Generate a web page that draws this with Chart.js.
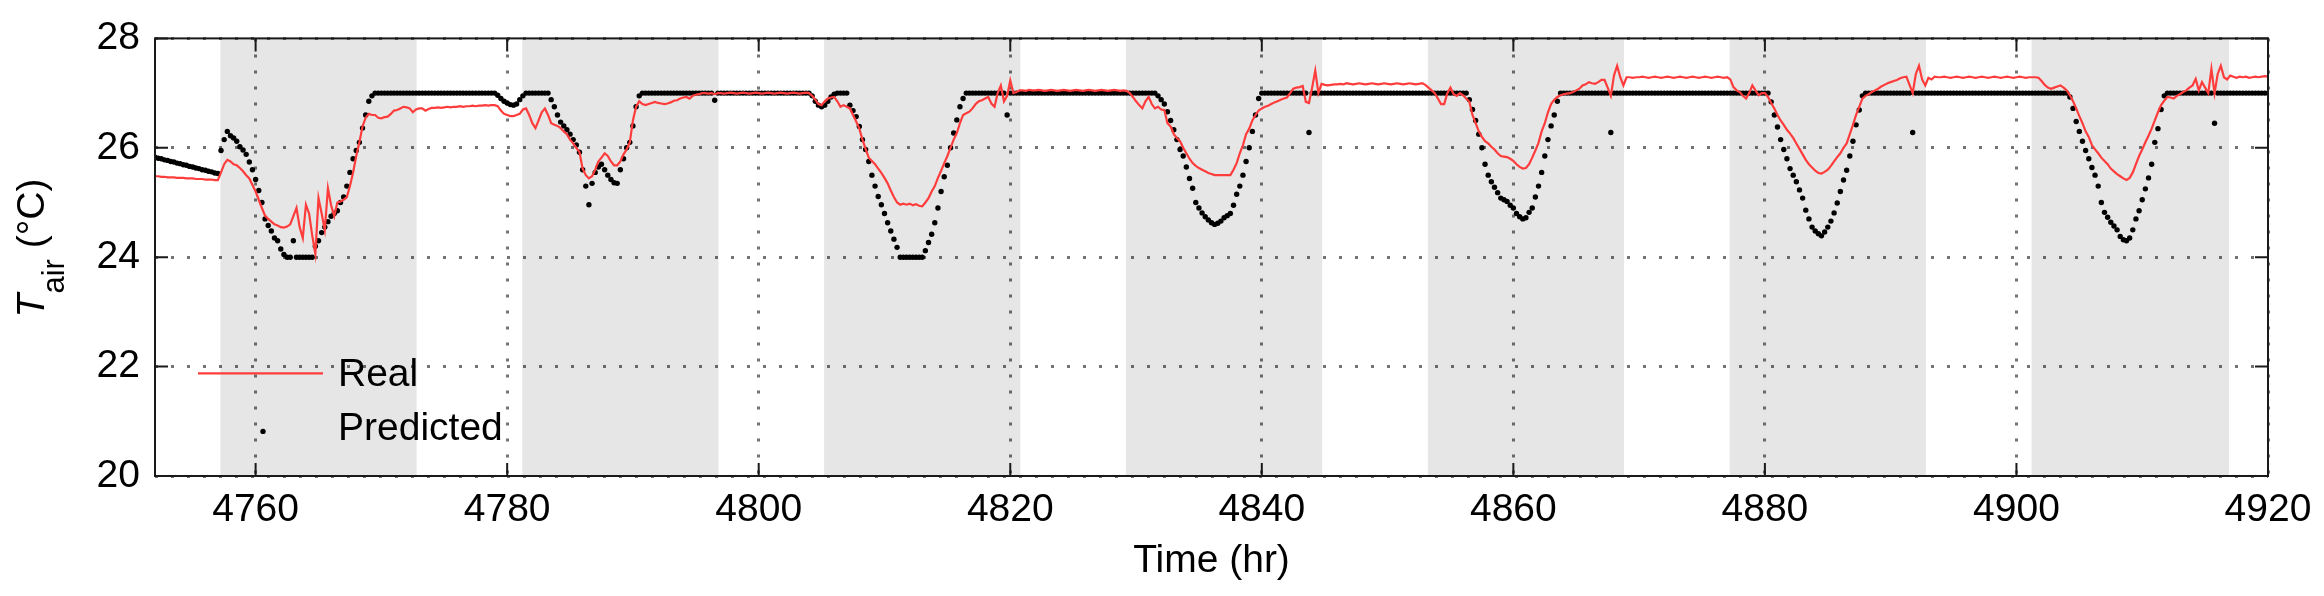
<!DOCTYPE html>
<html>
<head>
<meta charset="utf-8">
<script src="https://cdn.jsdelivr.net/npm/chart.js@4.4.1/dist/chart.umd.min.js"></script>
<style>
  html, body { margin: 0; padding: 0; background: #fff; }
  canvas { display: block; }
</style>
</head>
<body>
<canvas id="tairChart" width="2324" height="596"></canvas>
<script>
// sampling clock of the record (hr)
const startHour = 4752;
const stepHour = 0.25;

// measured air temperature, one row = 2 hours (8 samples)
const realTemp = [
  25.48, 25.48, 25.47, 25.47, 25.46, 25.46, 25.46, 25.45, // 4752
  25.45, 25.45, 25.44, 25.44, 25.44, 25.43, 25.43, 25.43,
  25.42, 25.42, 25.42, 25.41, 25.41, 25.55, 25.70, 25.78,
  25.75, 25.70, 25.68, 25.63, 25.57, 25.50, 25.44, 25.32,
  25.20, 25.05, 24.90, 24.76, 24.70, 24.65, 24.60, 24.58, // 4760
  24.55, 24.54, 24.56, 24.60, 24.75, 24.90, 24.55, 24.35,
  24.96, 24.80, 24.40, 24.06, 25.08, 24.80, 24.50, 25.26,
  24.95, 24.75, 25.00, 25.02, 25.05, 25.10, 25.30, 25.55,
  25.85, 26.10, 26.39, 26.55, 26.62, 26.60, 26.60, 26.55,
  26.54, 26.56, 26.57, 26.62, 26.68, 26.69, 26.72, 26.75, // 4770
  26.74, 26.72, 26.65, 26.70, 26.72, 26.72, 26.68, 26.71,
  26.73, 26.73, 26.74, 26.73, 26.74, 26.75, 26.74, 26.75,
  26.75, 26.76, 26.75, 26.76, 26.76, 26.77, 26.76, 26.77,
  26.77, 26.78, 26.77, 26.78, 26.78, 26.76, 26.68, 26.62,
  26.60, 26.58, 26.58, 26.60, 26.62, 26.70, 26.72, 26.60, // 4780
  26.45, 26.36, 26.50, 26.65, 26.72, 26.60, 26.45, 26.42,
  26.40, 26.36, 26.30, 26.25, 26.15, 26.08, 26.00, 25.92,
  25.62, 25.50, 25.44, 25.48, 25.60, 25.75, 25.82, 25.90,
  25.85, 25.75, 25.68, 25.68, 25.75, 25.88, 25.97, 26.10,
  26.50, 26.75, 26.85, 26.80, 26.78, 26.80, 26.82, 26.84, // 4790
  26.82, 26.81, 26.80, 26.81, 26.83, 26.86, 26.87, 26.90,
  26.92, 26.93, 26.90, 26.95, 26.97, 26.98, 27.00, 27.00,
  26.99, 27.00, 26.98, 27.00, 27.00, 26.99, 27.00, 27.01,
  27.00, 26.99, 27.00, 27.01, 27.00, 26.99, 27.00, 27.01,
  27.00, 26.99, 27.00, 27.01, 27.00, 26.99, 27.00, 27.01, // 4800
  27.00, 26.99, 27.00, 27.01, 27.00, 26.99, 27.00, 27.01,
  27.00, 26.95, 26.88, 26.80, 26.78, 26.85, 26.90, 26.92,
  26.93, 26.85, 26.75, 26.78, 26.75, 26.72, 26.60, 26.48,
  26.35, 26.15, 25.98, 25.82, 25.76, 25.70, 25.62, 25.54,
  25.45, 25.35, 25.22, 25.10, 25.00, 24.96, 24.98, 24.96, // 4810
  24.98, 24.95, 24.97, 24.94, 24.93, 25.00, 25.08, 25.20,
  25.30, 25.45, 25.58, 25.72, 25.85, 26.00, 26.15, 26.27,
  26.45, 26.60, 26.63, 26.66, 26.72, 26.80, 26.85, 26.87,
  26.90, 26.93, 26.81, 26.75, 27.00, 27.14, 26.85, 26.95,
  27.23, 27.00, 27.02, 27.05, 27.05, 27.04, 27.06, 27.05, // 4820
  27.05, 27.06, 27.05, 27.04, 27.05, 27.06, 27.05, 27.04,
  27.05, 27.06, 27.05, 27.04, 27.05, 27.06, 27.05, 27.04,
  27.05, 27.06, 27.05, 27.04, 27.05, 27.06, 27.05, 27.04,
  27.05, 27.06, 27.05, 27.04, 27.05, 27.04, 27.00, 26.93,
  26.85, 26.78, 26.72, 26.85, 26.93, 26.80, 26.72, 26.75, // 4830
  26.70, 26.69, 26.45, 26.39, 26.25, 26.18, 26.12, 26.00,
  25.90, 25.80, 25.72, 25.67, 25.63, 25.60, 25.57, 25.54,
  25.52, 25.50, 25.50, 25.50, 25.50, 25.50, 25.50, 25.60,
  25.72, 25.90, 26.05, 26.25, 26.35, 26.50, 26.60, 26.68,
  26.72, 26.75, 26.77, 26.80, 26.83, 26.85, 26.88, 26.90, // 4840
  26.92, 27.00, 27.08, 27.10, 27.11, 27.13, 26.84, 26.82,
  27.10, 27.41, 27.00, 27.17, 27.15, 27.14, 27.15, 27.16,
  27.16, 27.17, 27.16, 27.18, 27.17, 27.16, 27.17, 27.18,
  27.17, 27.16, 27.17, 27.18, 27.17, 27.16, 27.17, 27.18,
  27.17, 27.16, 27.17, 27.18, 27.17, 27.16, 27.17, 27.18, // 4850
  27.17, 27.16, 27.17, 27.18, 27.15, 27.10, 27.05, 27.00,
  26.90, 26.80, 26.80, 27.00, 27.10, 26.98, 26.95, 27.00,
  26.96, 26.90, 26.84, 26.60, 26.45, 26.30, 26.20, 26.12,
  26.08, 26.02, 25.97, 25.90, 25.85, 25.84, 25.83, 25.80,
  25.76, 25.70, 25.65, 25.62, 25.63, 25.70, 25.82, 25.95, // 4860
  26.09, 26.30, 26.45, 26.65, 26.80, 26.88, 26.93, 26.96,
  26.98, 26.99, 27.00, 27.02, 27.05, 27.08, 27.14, 27.16,
  27.20, 27.18, 27.17, 27.20, 27.24, 27.24, 27.10, 26.95,
  27.32, 27.50, 27.29, 27.14, 27.29, 27.29, 27.28, 27.29,
  27.29, 27.30, 27.29, 27.28, 27.29, 27.30, 27.29, 27.28, // 4870
  27.29, 27.30, 27.29, 27.28, 27.29, 27.30, 27.29, 27.28,
  27.29, 27.30, 27.29, 27.28, 27.29, 27.30, 27.29, 27.28,
  27.29, 27.30, 27.29, 27.28, 27.29, 27.25, 27.11, 27.05,
  27.02, 26.95, 26.90, 27.00, 27.14, 27.05, 26.96, 27.00,
  27.00, 26.93, 26.82, 26.72, 26.60, 26.50, 26.42, 26.33, // 4880
  26.26, 26.18, 26.08, 25.98, 25.88, 25.78, 25.70, 25.64,
  25.58, 25.54, 25.53, 25.56, 25.60, 25.67, 25.75, 25.83,
  25.90, 26.00, 26.08, 26.25, 26.42, 26.60, 26.75, 26.90,
  26.95, 26.98, 27.02, 27.05, 27.08, 27.12, 27.15, 27.18,
  27.20, 27.22, 27.24, 27.27, 27.29, 27.30, 27.15, 27.00, // 4890
  27.35, 27.50, 27.25, 27.14, 27.28, 27.25, 27.30, 27.29,
  27.29, 27.30, 27.29, 27.28, 27.29, 27.30, 27.29, 27.28,
  27.29, 27.30, 27.29, 27.28, 27.29, 27.30, 27.29, 27.28,
  27.29, 27.30, 27.29, 27.28, 27.29, 27.30, 27.29, 27.28,
  27.29, 27.30, 27.29, 27.28, 27.29, 27.29, 27.29, 27.28, // 4900
  27.22, 27.15, 27.10, 27.08, 27.10, 27.12, 27.14, 27.10,
  27.05, 26.96, 26.85, 26.72, 26.58, 26.45, 26.30, 26.20,
  26.05, 25.97, 25.90, 25.82, 25.76, 25.70, 25.62, 25.57,
  25.52, 25.48, 25.44, 25.41, 25.45, 25.55, 25.70, 25.85,
  25.97, 26.10, 26.22, 26.35, 26.50, 26.65, 26.78, 26.86, // 4910
  26.93, 26.92, 26.90, 26.95, 26.98, 27.02, 27.05, 27.10,
  27.14, 27.26, 27.05, 27.20, 27.10, 27.00, 27.44, 27.00,
  27.35, 27.50, 27.29, 27.25, 27.32, 27.30, 27.28, 27.30,
  27.29, 27.30, 27.28, 27.29, 27.30, 27.29, 27.30, 27.31,
  27.30 // 4920
];

// model prediction, same clock
const predictedTemp = [
  25.83, 25.81, 25.80, 25.78, 25.77, 25.75, 25.74, 25.72, // 4752
  25.71, 25.69, 25.68, 25.66, 25.65, 25.63, 25.62, 25.60,
  25.59, 25.57, 25.56, 25.54, 25.53, 25.95, 26.15, 26.30,
  26.22, 26.18, 26.12, 26.02, 25.96, 25.88, 25.74, 25.60,
  25.42, 25.22, 25.00, 24.70, 24.58, 24.48, 24.35, 24.30, // 4760
  24.15, 24.05, 24.00, 24.00, 24.30, 24.00, 24.00, 24.00,
  24.00, 24.00, 24.00, 24.20, 24.30, 24.45, 24.55, 24.65,
  24.75, 24.80, 24.85, 25.00, 25.10, 25.30, 25.55, 25.80,
  25.95, 26.10, 26.36, 26.60, 26.85, 26.95, 27.00, 27.00,
  27, 27, 27, 27, 27, 27, 27, 27, // 4770
  27, 27, 27, 27, 27, 27, 27, 27,
  27, 27, 27, 27, 27, 27, 27, 27,
  27, 27, 27, 27, 27, 27, 27, 27,
  27, 27, 27, 27, 27.00, 26.96, 26.90, 26.85,
  26.82, 26.79, 26.78, 26.80, 26.88, 26.95, 27.00, 27.00, // 4780
  27, 27, 27, 27, 27.00, 27.00, 26.88, 26.75,
  26.60, 26.47, 26.40, 26.33, 26.25, 26.15, 26.05, 25.92,
  25.60, 25.30, 24.96, 25.35, 25.55, 25.65, 25.70, 25.60,
  25.50, 25.42, 25.36, 25.35, 25.60, 25.80, 26.00, 26.10,
  26.40, 26.75, 26.95, 27.00, 27, 27, 27, 27, // 4790
  27, 27, 27, 27, 27, 27, 27, 27,
  27, 27, 27, 27, 27, 27, 27, 27,
  27.00, 27.00, 26.87, 27.00, 27, 27, 27, 27,
  27, 27, 27, 27, 27, 27, 27, 27,
  27, 27, 27, 27, 27, 27, 27, 27, // 4800
  27, 27, 27, 27, 27, 27, 27, 27,
  27.00, 26.95, 26.85, 26.78, 26.75, 26.78, 26.85, 26.93,
  26.98, 27.00, 27.00, 27.00, 27.00, 26.78, 26.68, 26.57,
  26.39, 26.15, 25.97, 25.75, 25.50, 25.30, 25.11, 24.96,
  24.80, 24.63, 24.48, 24.33, 24.18, 24.00, 24.00, 24.00, // 4810
  24.00, 24.00, 24.00, 24.00, 24.00, 24.12, 24.27, 24.42,
  24.63, 24.90, 25.20, 25.47, 25.68, 26.00, 26.27, 26.51,
  26.75, 26.90, 27.00, 27.00, 27, 27, 27, 27,
  27, 27, 27, 27, 27, 27, 27, 26.60,
  27, 27, 27, 27, 27, 27, 27, 27, // 4820
  27, 27, 27, 27, 27, 27, 27, 27,
  27, 27, 27, 27, 27, 27, 27, 27,
  27, 27, 27, 27, 27, 27, 27, 27,
  27, 27, 27, 27, 27, 27, 27, 27,
  27, 27, 27, 27, 27, 27, 27, 26.95, // 4830
  26.88, 26.80, 26.66, 26.50, 26.33, 26.15, 25.97, 25.85,
  25.65, 25.44, 25.26, 25.00, 24.90, 24.81, 24.74, 24.68,
  24.63, 24.60, 24.62, 24.66, 24.72, 24.76, 24.80, 24.95,
  25.15, 25.30, 25.50, 25.75, 26.00, 26.30, 26.60, 26.90,
  27, 27, 27, 27, 27, 27, 27, 27, // 4840
  27, 27, 27, 27, 27, 27, 27, 26.28,
  27, 27, 27, 27, 27, 27, 27, 27,
  27, 27, 27, 27, 27, 27, 27, 27,
  27, 27, 27, 27, 27, 27, 27, 27,
  27, 27, 27, 27, 27, 27, 27, 27, // 4850
  27, 27, 27, 27, 27, 27, 27, 27,
  27, 27, 27, 27, 27, 27, 27, 27,
  27.00, 27.00, 26.88, 26.70, 26.50, 26.25, 26.00, 25.70,
  25.50, 25.38, 25.28, 25.18, 25.08, 25.05, 25.02, 24.95,
  24.90, 24.80, 24.74, 24.70, 24.72, 24.82, 24.90, 25.10, // 4860
  25.30, 25.55, 25.85, 26.15, 26.40, 26.60, 26.85, 27.00,
  27, 27, 27, 27, 27, 27, 27, 27,
  27, 27, 27, 27, 27, 27, 27, 26.28,
  27, 27, 27, 27, 27, 27, 27, 27,
  27, 27, 27, 27, 27, 27, 27, 27, // 4870
  27, 27, 27, 27, 27, 27, 27, 27,
  27, 27, 27, 27, 27, 27, 27, 27,
  27, 27, 27, 27, 27, 27, 27, 27,
  27, 27, 27, 27, 27, 27, 27, 27,
  27.00, 27.00, 26.84, 26.60, 26.38, 26.15, 25.97, 25.80, // 4880
  25.62, 25.50, 25.38, 25.23, 25.08, 24.86, 24.70, 24.55,
  24.48, 24.43, 24.39, 24.46, 24.55, 24.66, 24.81, 24.99,
  25.20, 25.41, 25.59, 25.85, 26.12, 26.42, 26.69, 26.95,
  27, 27, 27, 27, 27, 27, 27, 27,
  27, 27, 27, 27, 27, 27, 27, 26.28, // 4890
  27, 27, 27, 27, 27, 27, 27, 27,
  27, 27, 27, 27, 27, 27, 27, 27,
  27, 27, 27, 27, 27, 27, 27, 27,
  27, 27, 27, 27, 27, 27, 27, 27,
  27, 27, 27, 27, 27, 27, 27, 27, // 4900
  27, 27, 27, 27, 27, 27, 27, 27,
  27.00, 26.93, 26.72, 26.48, 26.30, 26.12, 25.95, 25.80,
  25.64, 25.50, 25.30, 25.00, 24.82, 24.73, 24.64, 24.57,
  24.50, 24.38, 24.32, 24.30, 24.35, 24.50, 24.70, 24.85,
  25.05, 25.25, 25.45, 25.70, 26.10, 26.35, 26.70, 26.95, // 4910
  27, 27, 27, 27, 27, 27, 27, 27,
  27, 27, 27, 27, 27, 27, 27, 26.45,
  27, 27, 27, 27, 27, 27, 27, 27,
  27, 27, 27, 27, 27, 27, 27, 27,
  27 // 4920
];

const xTickValues = [4760, 4780, 4800, 4820, 4840, 4860, 4880, 4900, 4920];
const yTickValues = [20, 22, 24, 26, 28];

// occupied hours (grey background)
const bandStart = [4757.2, 4781.2, 4805.2, 4829.2, 4853.2, 4877.2, 4901.2];
const bandEnd = [4772.8, 4796.8, 4820.8, 4844.8, 4868.8, 4892.8, 4916.9];

const seriesNames = ['Real', 'Predicted'];

const hours = realTemp.map((v, i) => startHour + i * stepHour);
const realPoints = realTemp.map((v, i) => ({ x: hours[i], y: v }));
const predPoints = predictedTemp.map((v, i) => ({ x: hours[i], y: v }));

const FONT = '"Liberation Sans", Arial, Helvetica, sans-serif';
const RED = '#ff3c3c';
const DOT_R = 2.7;

Chart.defaults.font.family = FONT;
Chart.defaults.font.size = 39;
Chart.defaults.color = '#000';

const bandsPlugin = {
  id: 'bands',
  beforeDraw(chart) {
    const { ctx, chartArea: a, scales: { x } } = chart;
    ctx.save();
    ctx.fillStyle = '#e6e6e6';
    bandStart.forEach((s, i) => {
      const x1 = Math.max(a.left, x.getPixelForValue(s));
      const x2 = Math.min(a.right, x.getPixelForValue(bandEnd[i]));
      ctx.fillRect(x1, a.top, x2 - x1, a.bottom - a.top);
    });
    ctx.restore();
  }
};

// box + inward ticks like the original figure
const framePlugin = {
  id: 'frame',
  afterDatasetsDraw(chart) {
    const { ctx, chartArea: a, scales: { x, y } } = chart;
    const len = 13;
    ctx.save();
    ctx.strokeStyle = '#1a1a1a';
    ctx.lineWidth = 2;
    ctx.beginPath();
    xTickValues.forEach(v => {
      const px = x.getPixelForValue(v);
      ctx.moveTo(px, a.bottom); ctx.lineTo(px, a.bottom - len);
      ctx.moveTo(px, a.top); ctx.lineTo(px, a.top + len);
    });
    yTickValues.forEach(v => {
      const py = y.getPixelForValue(v);
      ctx.moveTo(a.left, py); ctx.lineTo(a.left + len, py);
      ctx.moveTo(a.right, py); ctx.lineTo(a.right - len, py);
    });
    ctx.stroke();
    ctx.strokeRect(a.left, a.top, a.right - a.left, a.bottom - a.top);
    ctx.restore();
  }
};

const legendPlugin = {
  id: 'plotLegend',
  afterDraw(chart) {
    const { ctx, chartArea: a } = chart;
    const row1 = a.top + 335, row2 = a.top + 391;
    ctx.save();
    ctx.strokeStyle = RED;
    ctx.lineWidth = 2.2;
    ctx.beginPath();
    ctx.moveTo(a.left + 43, row1);
    ctx.lineTo(a.left + 168, row1);
    ctx.stroke();
    ctx.fillStyle = '#000';
    ctx.beginPath();
    ctx.arc(a.left + 108, row2 + 2, DOT_R, 0, Math.PI * 2);
    ctx.fill();
    ctx.font = '39px ' + FONT;
    ctx.textBaseline = 'middle';
    ctx.textAlign = 'left';
    ctx.fillText(seriesNames[0], a.left + 183, row1 + 2);
    ctx.fillText(seriesNames[1], a.left + 183, row2);
    ctx.restore();
  }
};

const titlesPlugin = {
  id: 'axisTitles',
  afterDraw(chart) {
    const { ctx, chartArea: a } = chart;
    ctx.save();
    ctx.fillStyle = '#000';
    ctx.textBaseline = 'middle';
    ctx.textAlign = 'center';
    ctx.font = '39px ' + FONT;
    ctx.fillText('Time (hr)', (a.left + a.right) / 2, 561);

    // T_air (°C), rotated
    const mainFont = '39px ' + FONT;
    const italFont = 'italic 39px ' + FONT;
    const subFont = '31px ' + FONT;
    ctx.font = italFont; const wT = ctx.measureText('T').width;
    ctx.font = subFont; const wSub = ctx.measureText('air').width;
    ctx.font = mainFont; const wRest = ctx.measureText(' (°C)').width;
    const total = wT + wSub + wRest;
    ctx.translate(44, 248);
    ctx.rotate(-Math.PI / 2);
    ctx.textAlign = 'left';
    ctx.textBaseline = 'alphabetic';
    let cx = -total / 2;
    ctx.font = italFont; ctx.fillText('T', cx, 0); cx += wT;
    ctx.font = subFont; ctx.fillText('air', cx, 20); cx += wSub;
    ctx.font = mainFont; ctx.fillText(' (°C)', cx, 0);
    ctx.restore();
  }
};

new Chart(document.getElementById('tairChart'), {
  type: 'line',
  data: {
    datasets: [
      {
        label: seriesNames[0],
        data: realPoints,
        borderColor: RED,
        borderWidth: 2.2,
        pointRadius: 0,
        tension: 0,
        fill: false
      },
      {
        label: seriesNames[1],
        data: predPoints,
        showLine: false,
        pointRadius: DOT_R,
        pointBorderWidth: 0,
        pointBackgroundColor: '#000',
        pointHoverRadius: 0
      }
    ]
  },
  options: {
    responsive: false,
    animation: false,
    events: [],
    layout: { padding: { top: 30, right: 56, left: 0, bottom: 0 } },
    plugins: { legend: { display: false }, tooltip: { enabled: false } },
    scales: {
      x: {
        type: 'linear',
        min: 4752,
        max: 4920,
        afterBuildTicks: s => { s.ticks = xTickValues.map(v => ({ value: v })); },
        afterFit: s => { s.height = 120; },
        ticks: { padding: 11, maxRotation: 0, autoSkip: false, callback: v => String(v) },
        grid: { color: 'rgba(0,0,0,0.55)', lineWidth: 3, drawTicks: false },
        border: { display: false, dash: [3, 13] }
      },
      y: {
        min: 20,
        max: 28,
        afterBuildTicks: s => { s.ticks = yTickValues.map(v => ({ value: v })); },
        afterFit: s => { s.width = 155; },
        ticks: { padding: 15, callback: v => String(v) },
        grid: { color: 'rgba(0,0,0,0.55)', lineWidth: 3, drawTicks: false },
        border: { display: false, dash: [3, 13] }
      }
    }
  },
  plugins: [bandsPlugin, framePlugin, legendPlugin, titlesPlugin]
});
</script>
</body>
</html>
